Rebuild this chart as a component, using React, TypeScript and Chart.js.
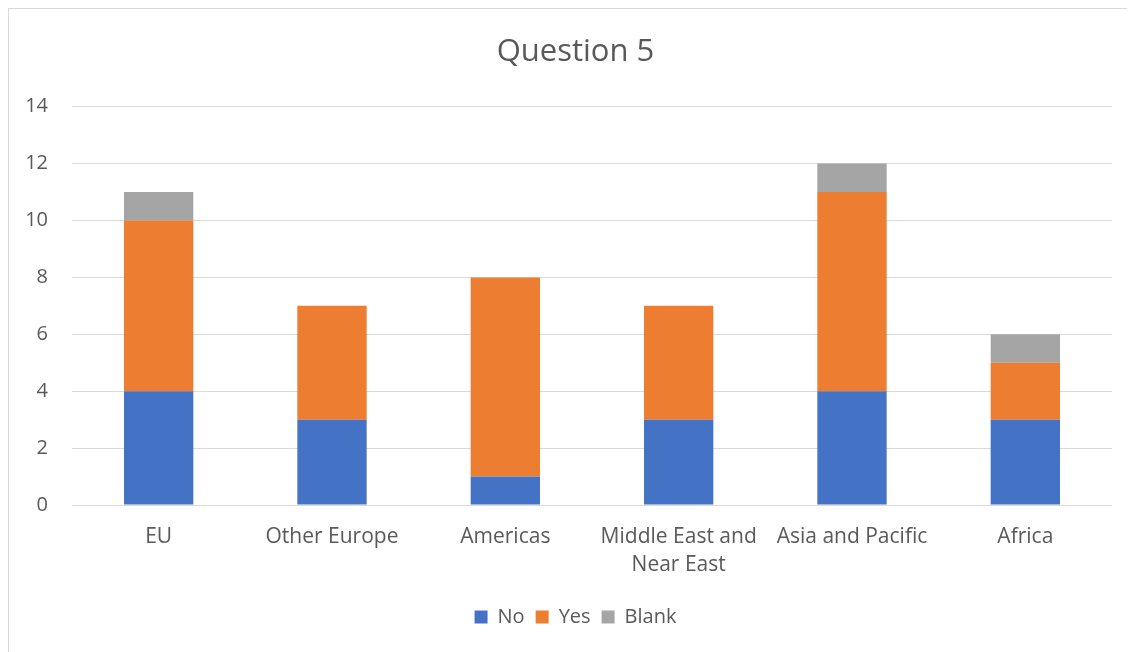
import React, { useEffect, useRef } from "react";
import { Chart, registerables } from "chart.js";

Chart.register(...registerables);

const categories: (string | string[])[] = [
  "EU",
  "Other Europe",
  "Americas",
  ["Middle East and", "Near East"],
  "Asia and Pacific",
  "Africa",
];
const noValues = [4, 3, 1, 3, 4, 3];
const yesValues = [6, 4, 7, 4, 7, 2];
const blankValues = [1, 0, 0, 0, 1, 1];
const yMin = 0;
const yMax = 14;
const yStep = 2;

const FONT = "'Open Sans', Lato, sans-serif";
const TEXT = "#595959";

export default function App() {
  const ref = useRef<HTMLCanvasElement | null>(null);

  useEffect(() => {
    document.documentElement.style.overflow = "hidden";
    const canvas = ref.current;
    if (!canvas) return;
    const chart = new Chart(canvas, {
      type: "bar",
      data: {
        labels: categories,
        datasets: [
          { label: "No", data: noValues, backgroundColor: "#4472C4" },
          { label: "Yes", data: yesValues, backgroundColor: "#ED7D31" },
          { label: "Blank", data: blankValues, backgroundColor: "#A5A5A5" },
        ],
      },
      options: {
        responsive: false,
        animation: false,
        devicePixelRatio: 1,
        datasets: { bar: { categoryPercentage: 1, barPercentage: 0.4 } },
        layout: { padding: { left: 0, right: 23, top: 0, bottom: 15 } },
        plugins: {
          title: {
            display: true,
            text: "Question 5",
            color: TEXT,
            font: { family: FONT, size: 31, weight: "normal", lineHeight: 1.2 },
            padding: { top: 25, bottom: 35.5 },
          },
          legend: {
            position: "bottom",
            labels: {
              color: TEXT,
              font: { family: FONT, size: 20 },
              boxWidth: 13,
              boxHeight: 13,
              padding: 11,
            },
          },
          tooltip: { enabled: false },
        },
        scales: {
          x: {
            stacked: true,
            grid: { display: false },
            border: { display: false },
            ticks: {
              color: TEXT,
              font: { family: FONT, size: 21, lineHeight: "28px" },
              padding: 10,
              maxRotation: 0,
              autoSkip: false,
            },
            afterFit: (s: any) => {
              s.height = 91;
            },
          },
          y: {
            stacked: true,
            min: yMin,
            max: yMax,
            grid: { color: "#d9d9d9", lineWidth: 1, drawTicks: false },
            border: { display: false },
            ticks: {
              stepSize: yStep,
              color: TEXT,
              font: { family: FONT, size: 20 },
              padding: 24,
            },
            afterFit: (s: any) => {
              s.width = 63;
            },
          },
          spacer: {
            type: "linear",
            position: "right",
            display: true,
            grid: { display: false, drawTicks: false },
            border: { display: false },
            ticks: { display: false },
            afterFit: (s: any) => {
              s.width = 30;
            },
          },
        },
      },
    });
    return () => chart.destroy();
  }, []);

  return (
    <div
      style={{
        width: 1156,
        height: 643,
        borderLeft: "1px solid #d9d9d9",
        borderTop: "1px solid #d9d9d9",
        background: "#fff",
      }}
    >
      <canvas ref={ref} width={1156} height={643} style={{ display: "block" }} />
    </div>
  );
}
